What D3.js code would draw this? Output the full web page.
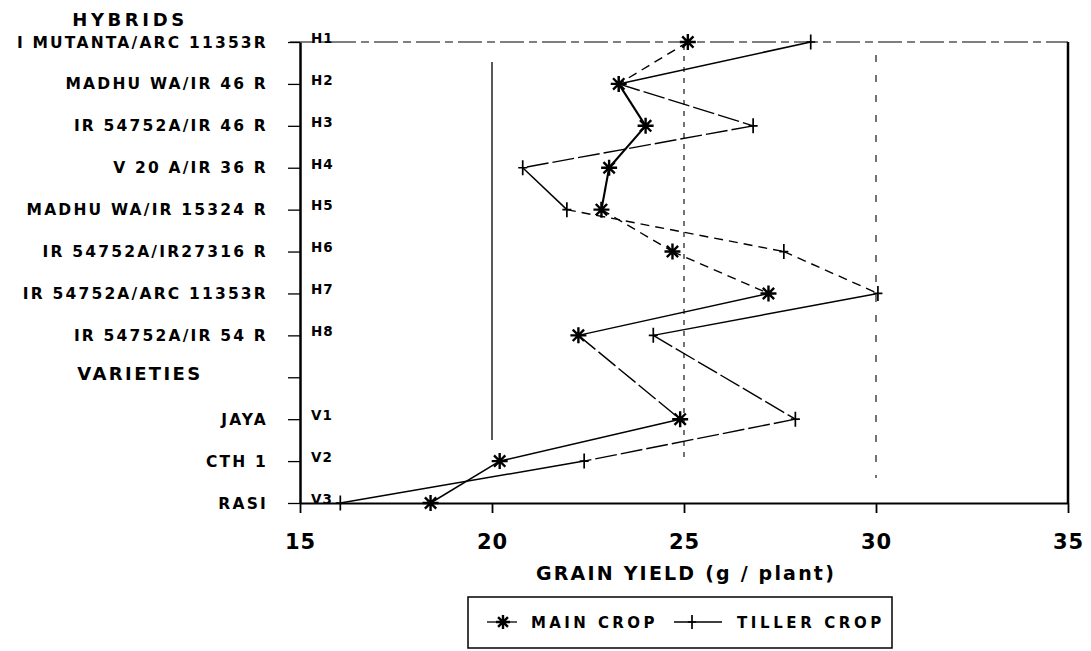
<!DOCTYPE html>
<html>
<head>
<meta charset="utf-8">
<script src="https://cdn.jsdelivr.net/npm/d3@7"></script>
<style>
  body { margin: 0; background: #fff; }
  text { font-family: "DejaVu Sans", sans-serif; font-weight: bold; fill: #000; }
</style>
</head>
<body>
<svg id="chart"></svg>
<script>
const width = 1091;
const height = 651;

// rows of the chart, top to bottom
const hybrids = ['I MUTANTA/ARC 11353R', 'MADHU WA/IR 46 R', 'IR 54752A/IR 46 R', 'V 20 A/IR 36 R',
                 'MADHU WA/IR 15324 R', 'IR 54752A/IR27316 R', 'IR 54752A/ARC 11353R', 'IR 54752A/IR 54 R'];
const hybridCodes = ['H1', 'H2', 'H3', 'H4', 'H5', 'H6', 'H7', 'H8'];
const varieties = ['JAYA', 'CTH 1', 'RASI'];
const varietyCodes = ['V1', 'V2', 'V3'];

// grain yield, g / plant (same order as the codes above)
const mainCrop   = [25.1, 23.3, 24.0, 23.05, 22.85, 24.7, 27.2, 22.25, 24.9, 20.2, 18.4];
const tillerCrop = [28.3, 23.3, 26.8, 20.8, 21.95, 27.6, 30.05, 24.2, 27.9, 22.4, 16.05];

const xTicks = [15, 20, 25, 30, 35];
const gridValues = [20, 25, 30];

// look of each joining segment (the plotter mixed pen styles)
const mainSegStyle   = ['dash', 'bold', 'bold', 'bold', 'dash', 'dash', 'solid', 'long', 'solid', 'solid'];
const tillerSegStyle = ['solid', 'long', 'long', 'solid', 'dash', 'dash', 'solid', 'long', 'long', 'solid'];
const penDash = {solid: null, bold: null, dash: '9,6', long: '22,4'};
const penWidth = {solid: 1.5, bold: 2.1, dash: 1.4, long: 1.4};

const plotLeft = 300, plotRight = 1068, plotTop = 42, plotBottom = 503;

const svg = d3.select('#chart').attr('width', width).attr('height', height);

const rows = hybridCodes.concat(['VARIETIES'], varietyCodes);
const codes = hybridCodes.concat(varietyCodes);
const names = hybrids.concat(varieties);

const x = d3.scaleLinear().domain([15, 35]).range([plotLeft, plotRight]);
const y = d3.scalePoint().domain(rows).range([plotTop, plotBottom]);

// vertical reference lines
const gridStyle = {
    20: {y0: 62, y1: 440, dash: null, w: 1.3},
    25: {y0: 45, y1: 460, dash: '5,6', w: 1.1},
    30: {y0: 55, y1: 478, dash: '7,13', w: 1.1}
};
svg.append('g').selectAll('line')
    .data(gridValues)
    .enter()
    .append('line')
    .attr('x1', d => x(d)).attr('x2', d => x(d))
    .attr('y1', d => gridStyle[d].y0).attr('y2', d => gridStyle[d].y1)
    .attr('stroke', '#000')
    .attr('stroke-width', d => gridStyle[d].w)
    .attr('stroke-dasharray', d => gridStyle[d].dash);

// frame: dashed top, solid right
svg.append('line')
    .attr('x1', plotLeft - 10).attr('x2', plotRight).attr('y1', plotTop).attr('y2', plotTop)
    .attr('stroke', '#000').attr('stroke-width', 1.2).attr('stroke-dasharray', '24,5,8,5');
svg.append('line')
    .attr('x1', plotRight).attr('x2', plotRight).attr('y1', plotTop).attr('y2', plotBottom)
    .attr('stroke', '#000').attr('stroke-width', 2.5);

// axes
const xAxis = svg.append('g')
    .attr('transform', `translate(0, ${plotBottom})`)
    .call(d3.axisBottom(x).tickValues(xTicks).tickSize(10).tickSizeOuter(0).tickPadding(21));
xAxis.select('.domain').attr('stroke-width', 2);
xAxis.selectAll('.tick line').attr('stroke-width', 1.8);
xAxis.selectAll('.tick text')
    .attr('font-family', null).attr('font-size', null)
    .style('font-size', '21px').style('letter-spacing', '1px');

const yAxis = svg.append('g')
    .attr('transform', `translate(${plotLeft}, 0)`)
    .call(d3.axisLeft(y).tickSize(12).tickSizeOuter(0).tickFormat(''));
yAxis.select('.domain').attr('stroke-width', 2.5);
yAxis.selectAll('.tick line').attr('stroke-width', 1.3);

// category labels
svg.append('g').selectAll('text')
    .data(names)
    .enter()
    .append('text')
    .attr('x', 268)
    .attr('y', (d, i) => y(codes[i]))
    .attr('dy', '0.36em')
    .attr('text-anchor', 'end')
    .style('font-size', '15.5px')
    .style('letter-spacing', '2.2px')
    .text(d => d);

svg.append('text')
    .attr('x', 130).attr('y', y(hybridCodes[0]) - 22)
    .attr('dy', '0.36em')
    .attr('text-anchor', 'middle')
    .style('font-size', '18px').style('letter-spacing', '3.6px')
    .text('HYBRIDS');
svg.append('text')
    .attr('x', 140).attr('y', y('VARIETIES') - 4)
    .attr('dy', '0.36em')
    .attr('text-anchor', 'middle')
    .style('font-size', '18px').style('letter-spacing', '2.4px')
    .text('VARIETIES');

// codes inside the plot
svg.append('g').selectAll('text')
    .data(codes)
    .enter()
    .append('text')
    .attr('x', 311)
    .attr('y', d => y(d) - 4)
    .attr('dy', '0.36em')
    .style('font-size', '13.5px')
    .style('letter-spacing', '1px')
    .text(d => d);

// series
const mainData = codes.map((c, i) => ({code: c, v: mainCrop[i]}));
const tillerData = codes.map((c, i) => ({code: c, v: tillerCrop[i]}));

function drawSegments(data, styles) {
    svg.append('g').selectAll('line')
        .data(d3.pairs(data))
        .enter()
        .append('line')
        .attr('x1', d => x(d[0].v)).attr('y1', d => y(d[0].code))
        .attr('x2', d => x(d[1].v)).attr('y2', d => y(d[1].code))
        .attr('stroke', '#000')
        .attr('stroke-width', (d, i) => penWidth[styles[i]])
        .attr('stroke-dasharray', (d, i) => penDash[styles[i]]);
}

drawSegments(tillerData, tillerSegStyle);
drawSegments(mainData, mainSegStyle);

function asterisk(g, r) {
    const p = d3.path();
    for (let k = 0; k < 4; k++) {
        const a = k * Math.PI / 4;
        p.moveTo(-r * Math.cos(a), -r * Math.sin(a));
        p.lineTo(r * Math.cos(a), r * Math.sin(a));
    }
    g.append('path').attr('d', p.toString()).attr('stroke', '#000').attr('stroke-width', 2.4);
}

function plus(g, r) {
    const p = d3.path();
    p.moveTo(0, -r); p.lineTo(0, r);
    p.moveTo(-r * 0.6, 0); p.lineTo(r * 0.6, 0);
    g.append('path').attr('d', p.toString()).attr('stroke', '#000').attr('stroke-width', 1.7);
}

svg.append('g').selectAll('g')
    .data(tillerData)
    .enter()
    .append('g')
    .attr('transform', d => `translate(${x(d.v)}, ${y(d.code)})`)
    .each(function() { plus(d3.select(this), 7.5); });

svg.append('g').selectAll('g')
    .data(mainData)
    .enter()
    .append('g')
    .attr('transform', d => `translate(${x(d.v)}, ${y(d.code)})`)
    .each(function() { asterisk(d3.select(this), 8); });

// axis title
svg.append('text')
    .attr('x', (plotLeft + plotRight) / 2 + 2).attr('y', 580)
    .attr('text-anchor', 'middle')
    .style('font-size', '19px').style('letter-spacing', '2.2px')
    .text('GRAIN YIELD (g / plant)');

// legend
const legend = svg.append('g');
legend.append('rect')
    .attr('x', 468).attr('y', 597).attr('width', 424).attr('height', 51)
    .attr('fill', 'none').attr('stroke', '#000').attr('stroke-width', 1.5);

legend.append('line').attr('x1', 487).attr('x2', 517).attr('y1', 622).attr('y2', 622)
    .attr('stroke', '#000').attr('stroke-width', 1.3);
asterisk(legend.append('g').attr('transform', 'translate(503, 622)'), 7);
legend.append('text').attr('x', 531).attr('y', 628)
    .style('font-size', '15px').style('letter-spacing', '3.4px').text('MAIN CROP');

legend.append('line').attr('x1', 674).attr('x2', 722).attr('y1', 622).attr('y2', 622)
    .attr('stroke', '#000').attr('stroke-width', 1.3);
plus(legend.append('g').attr('transform', 'translate(692, 622)'), 7);
legend.append('text').attr('x', 737).attr('y', 628)
    .style('font-size', '15px').style('letter-spacing', '3.6px').text('TILLER CROP');
</script>
</body>
</html>
